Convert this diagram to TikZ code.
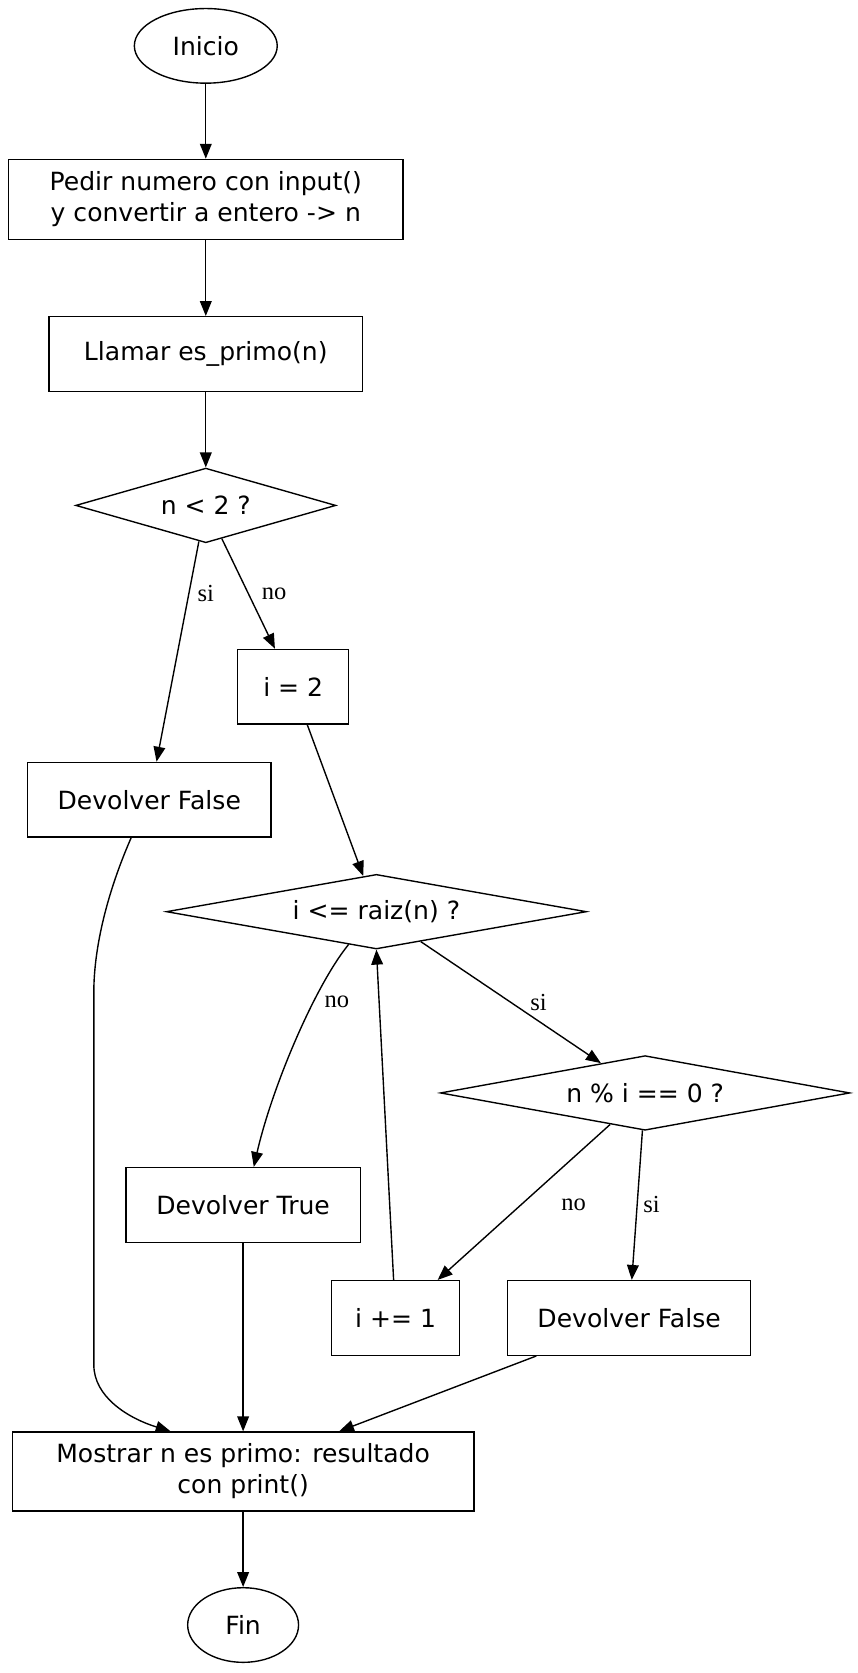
\documentclass[tikz,border=0pt]{standalone}
\usepackage{fontspec}
\setmainfont{DejaVu Sans}
\newfontfamily\lblfont{Liberation Serif}
\usetikzlibrary{shapes.geometric,arrows.meta}
\tikzstyle{box} = [rectangle, draw, line width=1.3pt, inner sep=0pt, align=center]
\tikzstyle{term} = [ellipse, draw, line width=1.3pt, inner sep=0pt, minimum height=70pt]
\tikzstyle{cond} = [diamond, draw, line width=1.3pt, inner sep=0pt, minimum height=70pt]
\tikzstyle{connector} = [line width=1.3pt, -{Triangle[length=14pt,width=11pt]}]
\tikzstyle{lbl} = [font=\lblfont\fontsize{23}{25}\selectfont, inner sep=1pt]

\begin{document}
\begin{tikzpicture}[x=1pt, y=-1pt, font=\fontsize{23.5}{29}\selectfont]
                \useasboundingbox (0,0) rectangle (804,1569);
                \node (start) [term, minimum width=134pt] at (193,43) {Inicio};
                \node (ask) [box, minimum width=370pt, minimum height=75pt] at (193,187) {Pedir numero con input()\\y convertir a entero -> n};
                \node (call) [box, minimum width=294pt, minimum height=70pt] at (193,332) {Llamar es\_primo(n)};
                \node (lt2) [cond, aspect=3.49, minimum width=244pt] at (193,474) {n < 2 ?};
                \node (init) [box, minimum width=104pt, minimum height=70pt] at (275,644) {i = 2};
                \node (falseA) [box, minimum width=228pt, minimum height=70pt] at (140,750) {Devolver False};
                \node (root) [cond, aspect=5.63, minimum width=394pt] at (353,855) {i <= raiz(n) ?};
                \node (mod) [cond, aspect=5.49, minimum width=384pt] at (605,1025) {n \% i == 0 ?};
                \node (true) [box, minimum width=220pt, minimum height=70pt] at (228,1130) {Devolver True};
                \node (inc) [box, minimum width=120pt, minimum height=70pt] at (371,1236) {i += 1};
                \node (falseB) [box, minimum width=228pt, minimum height=70pt] at (590,1236) {Devolver False};
                \node (show) [box, minimum width=433pt, minimum height=74pt] at (228,1380) {Mostrar n es primo: resultado\\con print()};
                \node (end) [term, minimum width=104pt] at (228,1524) {Fin};

                \draw [connector] (start) -- (ask);
                \draw [connector] (ask) -- (call);
                \draw [connector] (call) -- (lt2);
                \draw [connector] (lt2) -- (falseA);
                \draw [connector] (lt2) -- (init);
                \draw [connector] (init) -- (root);
                \draw [connector] ([xshift=-26pt,yshift=5pt]root.south) .. controls (295,925) and (255,1020) .. ([xshift=10pt]true.north);
                \draw [connector] (root) -- (mod);
                \draw [connector] (mod) -- (inc);
                \draw [connector] (mod) -- (falseB);
                \draw [connector] (inc) -- (root.south);
                \draw [connector] ([xshift=-17pt]falseA.south) .. controls (95,850) and (88,900) .. (88,930) -- (88,1280) .. controls (88,1310) and (120,1330) .. ([xshift=-68pt]show.north);
                \draw [connector] (true) -- (show);
                \draw [connector] ([xshift=-87pt]falseB.south) -- ([xshift=90pt]show.north);
                \draw [connector] (show) -- (end);

                \node (l1) [lbl] at (193,557) {si};
                \node (l2) [lbl] at (257,557) {no};
                \node (l3) [lbl] at (316,940) {no};
                \node (l4) [lbl] at (505,940) {si};
                \node (l5) [lbl] at (538,1130) {no};
                \node (l6) [lbl] at (611,1130) {si};
            \end{tikzpicture}
\end{document}
